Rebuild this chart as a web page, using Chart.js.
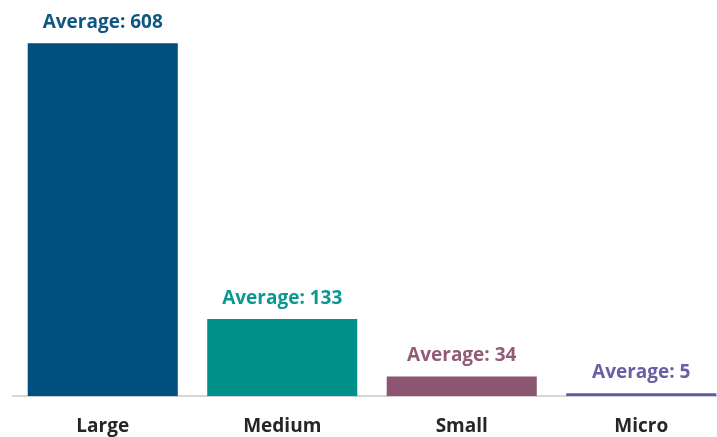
<!DOCTYPE html>
<html lang="en">
<head>
  <meta charset="UTF-8">
  <title>Average by size</title>
  <script src="https://cdn.jsdelivr.net/npm/chart.js"></script>
  <style>
    html, body { margin: 0; padding: 0; background: #fff; overflow: hidden; }
    .chart-box { position: relative; width: 731px; height: 457px; }
  </style>
</head>
<body>
  <div class="chart-box">
    <canvas id="avgChart"></canvas>
  </div>
  <script>
  // company size groups and their averages
  const categories = ['Large', 'Medium', 'Small', 'Micro'];
  const averages = [608, 133, 34, 5];
  const barColors = ['#004f7c', '#00918a', '#8c5571', '#6557a0'];
  const labelColors = ['#0f5680', '#0a9890', '#925b77', '#6a5ea6'];

  // writes "Average: n" above each bar
  const averageLabels = {
    id: 'averageLabels',
    afterDatasetsDraw(chart) {
      const ctx = chart.ctx;
      const meta = chart.getDatasetMeta(0);
      ctx.save();
      ctx.font = 'bold 19px "Open Sans", sans-serif';
      ctx.textAlign = 'center';
      ctx.textBaseline = 'bottom';
      meta.data.forEach((bar, i) => {
        ctx.fillStyle = labelColors[i];
        ctx.fillText('Average: ' + averages[i], bar.x, bar.y - 11);
      });
      ctx.restore();
    }
  };

  new Chart(document.getElementById('avgChart'), {
    type: 'bar',
    data: {
      labels: categories,
      datasets: [{
        data: averages,
        backgroundColor: barColors,
        borderWidth: 0,
        categoryPercentage: 1,
        barPercentage: 0.836
      }]
    },
    options: {
      responsive: true,
      maintainAspectRatio: false,
      animation: false,
      layout: { padding: { top: 41, left: 13, right: 0, bottom: 0 } },
      plugins: {
        legend: { display: false },
        tooltip: { enabled: false }
      },
      scales: {
        x: {
          grid: { display: false, drawTicks: false },
          border: { display: true, color: '#d6d6d6', width: 2 },
          ticks: {
            color: '#262626',
            padding: 19,
            font: { family: '"Open Sans", sans-serif', size: 19, weight: 'bold' }
          }
        },
        y: {
          display: false,
          min: 0,
          max: 612
        }
      }
    },
    plugins: [averageLabels]
  });
  </script>
</body>
</html>
